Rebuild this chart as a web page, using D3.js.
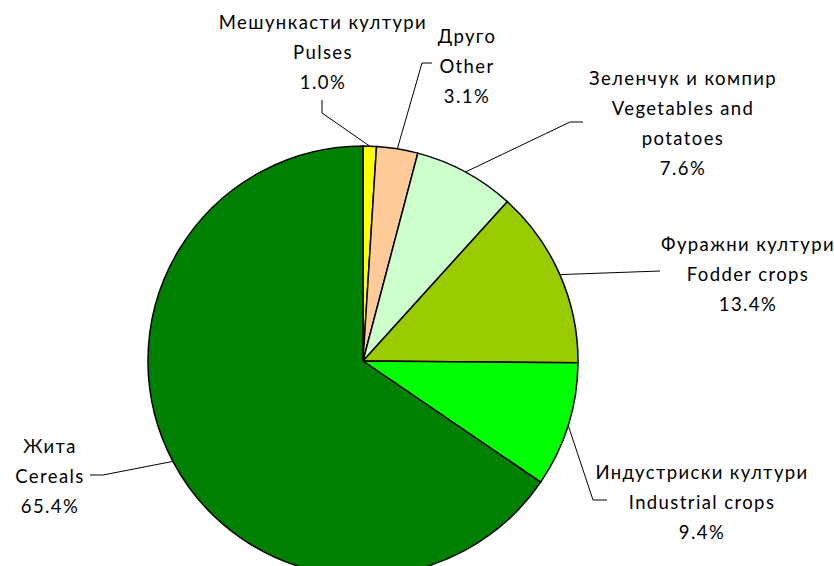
<!DOCTYPE html>
<html>
<head>
<meta charset="utf-8">
<script src="https://cdn.jsdelivr.net/npm/d3@7"></script>
<style>
  html, body { margin: 0; padding: 0; background: #fff; }
  svg { display: block; }
  text { font-family: Lato, "Liberation Sans", sans-serif; font-size: 18.5px; fill: #000; letter-spacing: 1.4px; }
</style>
</head>
<body>
<svg id="chart"></svg>
<script>
// chart data, clockwise from 12 o'clock
var namesMk = ["Мешункасти култури", "Друго", "Зеленчук и компир", "Фуражни култури", "Индустриски култури", "Жита"];
var namesEn = [["Pulses"], ["Other"], ["Vegetables and", "potatoes"], ["Fodder crops"], ["Industrial crops"], ["Cereals"]];
var shares = [1.0, 3.1, 7.6, 13.4, 9.4, 65.4];
var colours = ["#ffff00", "#ffcc99", "#ccffcc", "#99cc00", "#00ff00", "#008000"];

// label placement: centre of text block, first line y, elbow of leader line, leader end
var labelLayout = [
    { x: 323, y: 22,  elbow: [322, 113], end: [322, 100] },
    { x: 467, y: 36,  elbow: [422, 63],  end: [432, 63] },
    { x: 683, y: 78,  elbow: [570, 122], end: [583, 122] },
    { x: 748, y: 244, elbow: null,       end: [660, 271] },
    { x: 702, y: 472, elbow: [593, 500], end: [607, 500] },
    { x: 50,  y: 446, elbow: [103, 475], end: [90, 475] }
];

var width = 834, height = 566;
var cx = 363, cy = 361, radius = 215, lineGap = 30;

var svg = d3.select("#chart").attr("width", width).attr("height", height);

var rows = shares.map(function (v, i) { return { i: i, value: v }; });

var pie = d3.pie().sort(null).value(function (d) { return d.value; });
var arc = d3.arc().innerRadius(0).outerRadius(radius);
var arcs = pie(rows);

var g = svg.append("g").attr("transform", "translate(" + cx + "," + cy + ")");

// slices
g.selectAll("path.slice")
    .data(arcs)
    .enter()
    .append("path")
    .attr("class", "slice")
    .attr("d", arc)
    .attr("fill", function (d) { return colours[d.data.i]; })
    .attr("stroke", "#000")
    .attr("stroke-width", 1.5)
    .attr("stroke-linejoin", "round");

// leader lines, starting on the rim at the middle of each slice
svg.selectAll("polyline.leader")
    .data(arcs)
    .enter()
    .append("polyline")
    .attr("class", "leader")
    .attr("points", function (d) {
        var a = (d.startAngle + d.endAngle) / 2;
        var p = [cx + radius * Math.sin(a), cy - radius * Math.cos(a)];
        var lay = labelLayout[d.data.i];
        var pts = [p];
        if (lay.elbow) pts.push(lay.elbow);
        pts.push(lay.end);
        return pts.map(function (q) { return q.join(","); }).join(" ");
    })
    .attr("fill", "none")
    .attr("stroke", "#000")
    .attr("stroke-width", 1);

// labels
arcs.forEach(function (d) {
    var i = d.data.i;
    var lay = labelLayout[i];
    var lines = [namesMk[i]].concat(namesEn[i]).concat([d3.format(".1f")(shares[i]) + "%"]);
    var t = svg.append("text")
        .attr("text-anchor", "middle")
        .attr("dominant-baseline", "central");
    lines.forEach(function (s, k) {
        t.append("tspan").attr("x", lay.x).attr("y", lay.y + k * lineGap).text(s);
    });
});
</script>
</body>
</html>
